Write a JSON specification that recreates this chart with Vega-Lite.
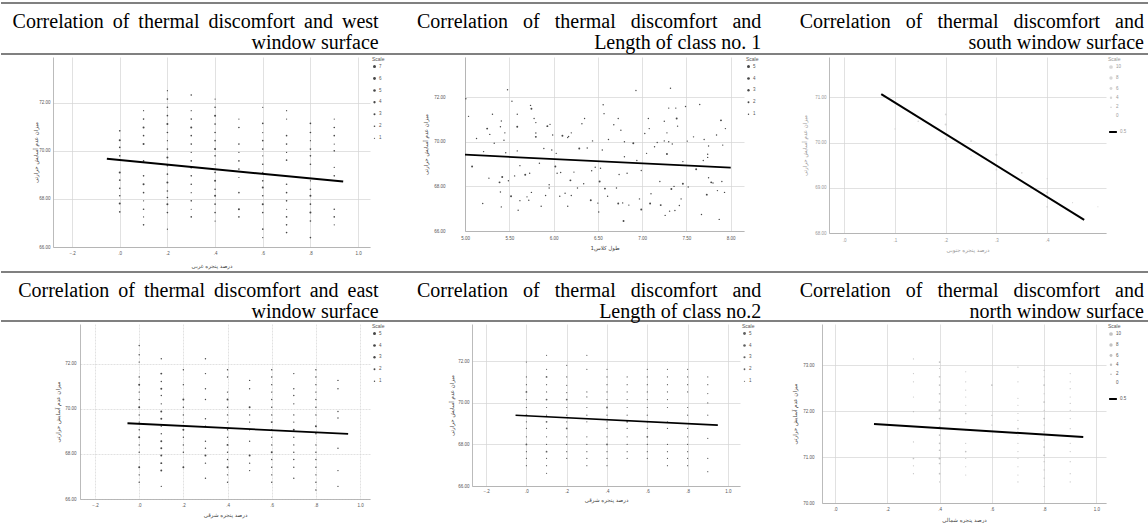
{
"$schema": "https://vega.github.io/schema/vega-lite/v6.json",
"padding": {"left": 0, "top": 2, "right": 0, "bottom": 0},
"background": "white",
"spacing": 2,
"resolve": {"scale": {"size": "independent", "color": "independent"}, "legend": {"size": "independent", "color": "independent"}},
"config": {
  "view": {"stroke": null},
  "concat": {"spacing": 0},
  "axis": {"labelFont": "Liberation Sans", "labelFontSize": 4.5, "labelColor": "#555", "titleFont": "DejaVu Sans", "titleFontSize": 5.5, "titleFontWeight": "normal", "titleColor": "#444", "ticks": false, "domainColor": "#aaa", "domainWidth": 0.8, "gridColor": "#d4d4d4", "gridWidth": 0.7, "labelFlush": false, "labelOverlap": false},
  "legend": {"titleFont": "Liberation Sans", "titleFontSize": 5, "titleFontWeight": "normal", "titleColor": "#555", "labelFont": "Liberation Sans", "labelFontSize": 4.5, "labelColor": "#555", "padding": 0, "offset": 2, "rowPadding": 3, "titlePadding": 2, "labelOffset": 2}
},
"datasets": {
  "titles1": [
    {"panel": "west", "title": "Correlation \u2009of \u2009thermal \u2009discomfort \u2009and \u2009west\nwindow surface"},
    {"panel": "length1", "title": "Correlation\u00a0\u00a0 of\u00a0\u00a0 thermal\u00a0\u00a0 discomfort\u00a0\u00a0 and\nLength of class no. 1"},
    {"panel": "south", "title": "Correlation\u00a0\u00a0 of\u00a0\u00a0 thermal\u00a0\u00a0 discomfort\u00a0\u00a0 and\nsouth window surface"}
  ],
  "titles2": [
    {"panel": "east", "title": "Correlation \u2009of \u2009thermal \u2009discomfort \u2009and \u2009east\nwindow surface"},
    {"panel": "length2", "title": "Correlation\u00a0\u00a0 of\u00a0\u00a0 thermal\u00a0\u00a0 discomfort\u00a0\u00a0 and\nLength of class no.2"},
    {"panel": "north", "title": "Correlation\u00a0\u00a0 of\u00a0\u00a0 thermal\u00a0\u00a0 discomfort\u00a0\u00a0 and\nnorth window surface"}
  ],
  "p1": [
    {"x":0,"y":70.83,"n":2},{"x":0,"y":70.44,"n":3},{"x":0,"y":70.14,"n":2},{"x":0,"y":69.79,"n":2},{"x":0,"y":69.10,"n":3},{"x":0,"y":68.78,"n":2},{"x":0,"y":68.44,"n":2},{"x":0,"y":68.13,"n":2},{"x":0,"y":67.81,"n":3},{"x":0,"y":67.46,"n":2},
    {"x":0.1,"y":71.67,"n":1},{"x":0.1,"y":71.32,"n":2},{"x":0.1,"y":70.97,"n":3},{"x":0.1,"y":70.63,"n":2},{"x":0.1,"y":70.28,"n":3},{"x":0.1,"y":69.58,"n":2},{"x":0.1,"y":68.96,"n":2},{"x":0.1,"y":68.61,"n":3},{"x":0.1,"y":68.26,"n":2},{"x":0.1,"y":67.92,"n":1},{"x":0.1,"y":67.57,"n":2},{"x":0.1,"y":67.25,"n":1},{"x":0.1,"y":66.92,"n":2},
    {"x":0.2,"y":72.50,"n":1},{"x":0.2,"y":72.15,"n":2},{"x":0.2,"y":71.81,"n":2},{"x":0.2,"y":71.46,"n":2},{"x":0.2,"y":71.11,"n":3},{"x":0.2,"y":70.76,"n":2},{"x":0.2,"y":70.42,"n":1},{"x":0.2,"y":70.07,"n":2},{"x":0.2,"y":69.72,"n":3},{"x":0.2,"y":69.38,"n":2},{"x":0.2,"y":69.03,"n":2},{"x":0.2,"y":68.68,"n":3},{"x":0.2,"y":68.33,"n":2},{"x":0.2,"y":68.06,"n":2},{"x":0.2,"y":67.78,"n":3},{"x":0.2,"y":67.43,"n":2},{"x":0.2,"y":66.74,"n":1},
    {"x":0.3,"y":72.32,"n":2},{"x":0.3,"y":71.67,"n":1},{"x":0.3,"y":71.32,"n":2},{"x":0.3,"y":70.97,"n":3},{"x":0.3,"y":70.63,"n":2},{"x":0.3,"y":70.28,"n":2},{"x":0.3,"y":69.93,"n":1},{"x":0.3,"y":69.58,"n":2},{"x":0.3,"y":69.31,"n":3},{"x":0.3,"y":68.96,"n":2},{"x":0.3,"y":68.61,"n":2},{"x":0.3,"y":68.26,"n":1},{"x":0.3,"y":67.92,"n":2},{"x":0.3,"y":67.57,"n":1},{"x":0.3,"y":67.25,"n":2},
    {"x":0.4,"y":72.15,"n":1},{"x":0.4,"y":71.81,"n":2},{"x":0.4,"y":71.46,"n":3},{"x":0.4,"y":71.11,"n":2},{"x":0.4,"y":70.76,"n":2},{"x":0.4,"y":70.42,"n":2},{"x":0.4,"y":70.07,"n":3},{"x":0.4,"y":69.79,"n":2},{"x":0.4,"y":69.44,"n":1},{"x":0.4,"y":69.10,"n":2},{"x":0.4,"y":68.75,"n":3},{"x":0.4,"y":68.40,"n":2},{"x":0.4,"y":68.13,"n":3},{"x":0.4,"y":67.78,"n":2},{"x":0.4,"y":67.43,"n":2},{"x":0.4,"y":67.08,"n":1},
    {"x":0.5,"y":71.32,"n":1},{"x":0.5,"y":70.97,"n":2},{"x":0.5,"y":70.28,"n":2},{"x":0.5,"y":69.93,"n":1},{"x":0.5,"y":69.58,"n":2},{"x":0.5,"y":69.24,"n":2},{"x":0.5,"y":68.89,"n":1},{"x":0.5,"y":68.26,"n":2},{"x":0.5,"y":67.57,"n":3},{"x":0.5,"y":67.25,"n":2},
    {"x":0.6,"y":71.81,"n":1},{"x":0.6,"y":71.14,"n":2},{"x":0.6,"y":70.76,"n":1},{"x":0.6,"y":70.42,"n":2},{"x":0.6,"y":70.07,"n":2},{"x":0.6,"y":69.79,"n":1},{"x":0.6,"y":69.44,"n":2},{"x":0.6,"y":69.10,"n":1},{"x":0.6,"y":68.75,"n":2},{"x":0.6,"y":68.47,"n":3},{"x":0.6,"y":68.13,"n":2},{"x":0.6,"y":67.78,"n":3},{"x":0.6,"y":67.43,"n":2},{"x":0.6,"y":66.74,"n":2},{"x":0.6,"y":66.39,"n":1},
    {"x":0.7,"y":71.67,"n":1},{"x":0.7,"y":71.32,"n":1},{"x":0.7,"y":70.63,"n":2},{"x":0.7,"y":70.28,"n":2},{"x":0.7,"y":69.93,"n":1},{"x":0.7,"y":69.61,"n":2},{"x":0.7,"y":68.61,"n":2},{"x":0.7,"y":68.26,"n":2},{"x":0.7,"y":67.92,"n":2},{"x":0.7,"y":67.57,"n":1},{"x":0.7,"y":67.25,"n":2},{"x":0.7,"y":66.92,"n":2},{"x":0.7,"y":66.60,"n":2},
    {"x":0.8,"y":71.14,"n":2},{"x":0.8,"y":70.76,"n":2},{"x":0.8,"y":70.42,"n":1},{"x":0.8,"y":70.07,"n":2},{"x":0.8,"y":69.79,"n":2},{"x":0.8,"y":69.44,"n":2},{"x":0.8,"y":68.75,"n":1},{"x":0.8,"y":68.40,"n":2},{"x":0.8,"y":68.13,"n":3},{"x":0.8,"y":67.78,"n":2},{"x":0.8,"y":67.43,"n":3},{"x":0.8,"y":67.08,"n":2},{"x":0.8,"y":66.39,"n":2},
    {"x":0.9,"y":71.32,"n":1},{"x":0.9,"y":70.97,"n":2},{"x":0.9,"y":70.63,"n":2},{"x":0.9,"y":70.28,"n":1},{"x":0.9,"y":70.00,"n":2},{"x":0.9,"y":69.31,"n":1},{"x":0.9,"y":68.96,"n":2},{"x":0.9,"y":67.57,"n":2},{"x":0.9,"y":67.25,"n":2},{"x":0.9,"y":66.92,"n":1}
  ],
  "l1": [{"x":-0.054,"y":69.67},{"x":0.9375,"y":68.72}],
  "p2": [
    {"x":5.01,"y":71.93,"n":1},{"x":5.04,"y":71.14,"n":1},{"x":5.08,"y":68.89,"n":2},{"x":5.13,"y":70.15,"n":1},{"x":5.20,"y":67.23,"n":1},{"x":5.21,"y":69.56,"n":1},{"x":5.25,"y":70.59,"n":2},{"x":5.27,"y":68.37,"n":1},{"x":5.28,"y":70.33,"n":1},{"x":5.31,"y":71.23,"n":1},
    {"x":5.33,"y":69.93,"n":1},{"x":5.39,"y":68.18,"n":2},{"x":5.40,"y":70.67,"n":1},{"x":5.40,"y":67.75,"n":1},{"x":5.41,"y":67.08,"n":1},{"x":5.41,"y":70.93,"n":1},{"x":5.42,"y":68.42,"n":2},{"x":5.44,"y":70.07,"n":1},{"x":5.45,"y":70.40,"n":1},{"x":5.46,"y":69.51,"n":1},
    {"x":5.48,"y":72.33,"n":1},{"x":5.49,"y":68.25,"n":1},{"x":5.52,"y":67.56,"n":2},{"x":5.53,"y":71.82,"n":1},{"x":5.56,"y":68.47,"n":1},{"x":5.59,"y":71.23,"n":1},{"x":5.59,"y":70.67,"n":2},{"x":5.59,"y":69.59,"n":1},{"x":5.60,"y":66.93,"n":1},{"x":5.62,"y":68.93,"n":1},
    {"x":5.62,"y":67.36,"n":1},{"x":5.68,"y":68.52,"n":2},{"x":5.70,"y":67.53,"n":1},{"x":5.72,"y":67.38,"n":1},{"x":5.73,"y":68.59,"n":1},{"x":5.74,"y":71.63,"n":1},{"x":5.75,"y":71.48,"n":2},{"x":5.75,"y":67.73,"n":1},{"x":5.78,"y":71.04,"n":1},{"x":5.80,"y":70.86,"n":1},
    {"x":5.80,"y":70.39,"n":1},{"x":5.80,"y":70.22,"n":2},{"x":5.84,"y":69.04,"n":1},{"x":5.86,"y":67.11,"n":1},{"x":5.89,"y":69.70,"n":1},{"x":5.91,"y":67.59,"n":1},{"x":5.93,"y":70.70,"n":2},{"x":5.95,"y":68.07,"n":1},{"x":5.95,"y":67.93,"n":1},{"x":5.96,"y":70.78,"n":1},
    {"x":5.98,"y":69.63,"n":1},{"x":5.99,"y":70.30,"n":1},{"x":6.02,"y":68.89,"n":2},{"x":6.03,"y":69.48,"n":1},{"x":6.04,"y":68.59,"n":1},{"x":6.08,"y":68.62,"n":1},{"x":6.07,"y":67.56,"n":1},{"x":6.10,"y":70.27,"n":2},{"x":6.13,"y":67.69,"n":1},{"x":6.16,"y":70.19,"n":1},
    {"x":6.16,"y":67.11,"n":1},{"x":6.17,"y":70.24,"n":1},{"x":6.19,"y":68.27,"n":2},{"x":6.20,"y":67.59,"n":1},{"x":6.20,"y":70.40,"n":1},{"x":6.23,"y":68.64,"n":1},{"x":6.27,"y":67.93,"n":1},{"x":6.29,"y":69.70,"n":2},{"x":6.32,"y":70.81,"n":1},{"x":6.34,"y":68.12,"n":1},
    {"x":6.35,"y":71.04,"n":1},{"x":6.38,"y":69.72,"n":1},{"x":6.42,"y":67.38,"n":2},{"x":6.43,"y":68.70,"n":1},{"x":6.44,"y":70.04,"n":1},{"x":6.47,"y":68.86,"n":1},{"x":6.50,"y":67.25,"n":1},{"x":6.51,"y":66.85,"n":1},{"x":6.52,"y":68.22,"n":2},{"x":6.53,"y":68.81,"n":1},
    {"x":6.55,"y":69.63,"n":1},{"x":6.56,"y":71.66,"n":1},{"x":6.57,"y":71.26,"n":1},{"x":6.58,"y":67.90,"n":2},{"x":6.61,"y":67.56,"n":1},{"x":6.62,"y":70.10,"n":1},{"x":6.68,"y":70.76,"n":1},{"x":6.71,"y":67.93,"n":1},{"x":6.73,"y":67.23,"n":2},{"x":6.73,"y":71.04,"n":1},
    {"x":6.74,"y":68.53,"n":1},{"x":6.76,"y":70.52,"n":1},{"x":6.78,"y":67.26,"n":1},{"x":6.79,"y":66.45,"n":2},{"x":6.80,"y":70.00,"n":1},{"x":6.80,"y":69.33,"n":1},{"x":6.83,"y":68.59,"n":1},{"x":6.85,"y":67.16,"n":1},{"x":6.90,"y":69.93,"n":2},{"x":6.93,"y":72.30,"n":1},
    {"x":6.94,"y":69.16,"n":1},{"x":6.97,"y":67.44,"n":1},{"x":6.99,"y":68.71,"n":1},{"x":6.99,"y":66.96,"n":2},{"x":7.03,"y":70.37,"n":1},{"x":7.05,"y":69.48,"n":1},{"x":7.07,"y":71.04,"n":1},{"x":7.08,"y":70.59,"n":1},{"x":7.09,"y":67.23,"n":2},{"x":7.10,"y":67.67,"n":1},
    {"x":7.14,"y":69.78,"n":1},{"x":7.17,"y":69.97,"n":1},{"x":7.20,"y":68.22,"n":1},{"x":7.21,"y":67.16,"n":2},{"x":7.25,"y":70.92,"n":1},{"x":7.25,"y":70.04,"n":1},{"x":7.26,"y":66.70,"n":1},{"x":7.28,"y":70.40,"n":1},{"x":7.28,"y":69.45,"n":2},{"x":7.30,"y":71.51,"n":1},
    {"x":7.30,"y":70.00,"n":1},{"x":7.31,"y":66.89,"n":1},{"x":7.32,"y":72.40,"n":1},{"x":7.33,"y":67.88,"n":2},{"x":7.34,"y":69.90,"n":1},{"x":7.36,"y":68.00,"n":1},{"x":7.37,"y":66.92,"n":1},{"x":7.38,"y":71.51,"n":1},{"x":7.39,"y":71.04,"n":2},{"x":7.40,"y":70.70,"n":1},
    {"x":7.42,"y":67.14,"n":1},{"x":7.44,"y":67.44,"n":1},{"x":7.46,"y":69.11,"n":1},{"x":7.46,"y":68.12,"n":2},{"x":7.49,"y":71.58,"n":1},{"x":7.51,"y":70.03,"n":1},{"x":7.52,"y":67.97,"n":1},{"x":7.58,"y":70.22,"n":1},{"x":7.61,"y":68.77,"n":2},{"x":7.65,"y":71.67,"n":1},
    {"x":7.67,"y":66.74,"n":1},{"x":7.69,"y":69.16,"n":1},{"x":7.70,"y":70.10,"n":1},{"x":7.73,"y":67.63,"n":2},{"x":7.74,"y":69.44,"n":1},{"x":7.74,"y":69.30,"n":1},{"x":7.75,"y":68.39,"n":1},{"x":7.75,"y":69.81,"n":1},{"x":7.78,"y":68.18,"n":2},{"x":7.80,"y":68.15,"n":1},
    {"x":7.84,"y":70.30,"n":1},{"x":7.85,"y":67.81,"n":1},{"x":7.87,"y":66.52,"n":1},{"x":7.89,"y":70.96,"n":2},{"x":7.90,"y":68.22,"n":1},{"x":7.91,"y":69.85,"n":1},{"x":7.93,"y":67.73,"n":1},{"x":7.94,"y":70.59,"n":1}
  ],
  "l2": [{"x":5.0,"y":69.42},{"x":8.0,"y":68.84}],
  "p3": [
    {"x":0.1,"y":70.9,"n":1},{"x":0.146,"y":70.47,"n":2},{"x":0.2,"y":70.62,"n":2},{"x":0.2,"y":70.4,"n":3},{"x":0.2,"y":70.07,"n":2},{"x":0.25,"y":70.03,"n":2},{"x":0.25,"y":69.7,"n":1},{"x":0.3,"y":69.73,"n":3},{"x":0.3,"y":69.4,"n":2},{"x":0.35,"y":69.33,"n":2},{"x":0.35,"y":68.98,"n":1},{"x":0.4,"y":68.89,"n":3},{"x":0.4,"y":68.58,"n":2},{"x":0.45,"y":68.67,"n":1},{"x":0.5,"y":68.58,"n":1},{"x":0.1,"y":70.3,"n":1},{"x":0.3,"y":69.1,"n":1},{"x":0.4,"y":69.2,"n":1}
  ],
  "l3": [{"x":0.073,"y":71.07},{"x":0.473,"y":68.29}],
  "p4": [
    {"x":0,"y":72.81,"n":1},{"x":0,"y":72.40,"n":1},{"x":0,"y":72.07,"n":1},{"x":0,"y":71.41,"n":1},{"x":0,"y":71.07,"n":2},{"x":0,"y":70.74,"n":1},{"x":0,"y":70.41,"n":1},{"x":0,"y":70.07,"n":2},{"x":0,"y":69.73,"n":1},{"x":0,"y":69.41,"n":1},{"x":0,"y":69.07,"n":1},{"x":0,"y":68.74,"n":2},{"x":0,"y":68.40,"n":1},{"x":0,"y":68.07,"n":1},{"x":0,"y":67.41,"n":2},{"x":0,"y":67.07,"n":1},{"x":0,"y":66.74,"n":1},
    {"x":0.1,"y":72.22,"n":1},{"x":0.1,"y":71.56,"n":2},{"x":0.1,"y":71.21,"n":1},{"x":0.1,"y":70.89,"n":2},{"x":0.1,"y":70.59,"n":1},{"x":0.1,"y":70.22,"n":1},{"x":0.1,"y":69.88,"n":2},{"x":0.1,"y":69.56,"n":2},{"x":0.1,"y":69.23,"n":1},{"x":0.1,"y":68.89,"n":1},{"x":0.1,"y":68.56,"n":2},{"x":0.1,"y":68.25,"n":2},{"x":0.1,"y":67.93,"n":2},{"x":0.1,"y":67.59,"n":2},{"x":0.1,"y":67.26,"n":2},{"x":0.1,"y":66.56,"n":1},
    {"x":0.2,"y":71.73,"n":1},{"x":0.2,"y":71.07,"n":1},{"x":0.2,"y":70.41,"n":2},{"x":0.2,"y":70.07,"n":1},{"x":0.2,"y":69.73,"n":1},{"x":0.2,"y":69.41,"n":1},{"x":0.2,"y":69.07,"n":2},{"x":0.2,"y":68.74,"n":1},{"x":0.2,"y":68.40,"n":1},{"x":0.2,"y":68.07,"n":1},{"x":0.2,"y":67.41,"n":2},
    {"x":0.3,"y":72.22,"n":1},{"x":0.3,"y":71.56,"n":1},{"x":0.3,"y":70.89,"n":1},{"x":0.3,"y":70.41,"n":1},{"x":0.3,"y":69.56,"n":1},{"x":0.3,"y":69.23,"n":1},{"x":0.3,"y":68.56,"n":1},{"x":0.3,"y":68.25,"n":1},{"x":0.3,"y":67.93,"n":2},{"x":0.3,"y":67.59,"n":1},{"x":0.3,"y":66.92,"n":1},
    {"x":0.4,"y":71.73,"n":1},{"x":0.4,"y":71.41,"n":1},{"x":0.4,"y":70.74,"n":1},{"x":0.4,"y":70.41,"n":2},{"x":0.4,"y":70.07,"n":1},{"x":0.4,"y":69.73,"n":1},{"x":0.4,"y":69.41,"n":1},{"x":0.4,"y":69.07,"n":1},{"x":0.4,"y":68.74,"n":1},{"x":0.4,"y":68.40,"n":2},{"x":0.4,"y":68.07,"n":1},{"x":0.4,"y":67.75,"n":1},{"x":0.4,"y":67.41,"n":2},{"x":0.4,"y":67.07,"n":1},{"x":0.4,"y":66.74,"n":1},
    {"x":0.5,"y":71.26,"n":1},{"x":0.5,"y":70.89,"n":1},{"x":0.5,"y":70.07,"n":2},{"x":0.5,"y":69.73,"n":1},{"x":0.5,"y":69.41,"n":1},{"x":0.5,"y":69.07,"n":1},{"x":0.5,"y":68.56,"n":1},{"x":0.5,"y":67.93,"n":2},{"x":0.5,"y":67.59,"n":1},{"x":0.5,"y":67.26,"n":1},
    {"x":0.6,"y":71.73,"n":1},{"x":0.6,"y":71.41,"n":1},{"x":0.6,"y":71.07,"n":1},{"x":0.6,"y":70.74,"n":1},{"x":0.6,"y":70.41,"n":1},{"x":0.6,"y":70.07,"n":1},{"x":0.6,"y":69.73,"n":1},{"x":0.6,"y":69.41,"n":2},{"x":0.6,"y":69.07,"n":1},{"x":0.6,"y":68.74,"n":1},{"x":0.6,"y":68.40,"n":1},{"x":0.6,"y":68.07,"n":2},{"x":0.6,"y":67.75,"n":1},{"x":0.6,"y":67.41,"n":1},{"x":0.6,"y":67.07,"n":1},{"x":0.6,"y":66.74,"n":1},
    {"x":0.7,"y":71.56,"n":1},{"x":0.7,"y":70.89,"n":1},{"x":0.7,"y":70.59,"n":1},{"x":0.7,"y":70.22,"n":1},{"x":0.7,"y":69.73,"n":1},{"x":0.7,"y":69.41,"n":1},{"x":0.7,"y":69.07,"n":2},{"x":0.7,"y":68.74,"n":1},{"x":0.7,"y":68.40,"n":1},{"x":0.7,"y":68.07,"n":1},{"x":0.7,"y":67.75,"n":1},{"x":0.7,"y":67.41,"n":1},{"x":0.7,"y":66.92,"n":1},
    {"x":0.8,"y":71.73,"n":1},{"x":0.8,"y":71.41,"n":1},{"x":0.8,"y":71.07,"n":1},{"x":0.8,"y":70.74,"n":1},{"x":0.8,"y":70.41,"n":1},{"x":0.8,"y":70.07,"n":1},{"x":0.8,"y":69.73,"n":1},{"x":0.8,"y":69.23,"n":2},{"x":0.8,"y":68.89,"n":1},{"x":0.8,"y":68.40,"n":1},{"x":0.8,"y":68.07,"n":1},{"x":0.8,"y":67.75,"n":1},{"x":0.8,"y":67.41,"n":1},{"x":0.8,"y":67.07,"n":1},{"x":0.8,"y":66.74,"n":1},{"x":0.8,"y":66.40,"n":1},
    {"x":0.9,"y":71.26,"n":1},{"x":0.9,"y":70.89,"n":1},{"x":0.9,"y":69.88,"n":1},{"x":0.9,"y":69.59,"n":1},{"x":0.9,"y":68.25,"n":1},{"x":0.9,"y":67.26,"n":1},{"x":0.9,"y":66.56,"n":1}
  ],
  "l4": [{"x":-0.053,"y":69.36},{"x":0.946,"y":68.89}],
  "p5": [
    {"x":0,"y":71.97,"n":1},{"x":0,"y":71.25,"n":1},{"x":0,"y":70.88,"n":1},{"x":0,"y":70.53,"n":2},{"x":0,"y":70.16,"n":1},{"x":0,"y":69.78,"n":1},{"x":0,"y":69.41,"n":2},{"x":0,"y":69.09,"n":1},{"x":0,"y":68.77,"n":1},{"x":0,"y":68.37,"n":1},{"x":0,"y":68.00,"n":2},{"x":0,"y":67.65,"n":1},{"x":0,"y":67.33,"n":1},{"x":0,"y":66.98,"n":1},
    {"x":0.1,"y":72.29,"n":1},{"x":0.1,"y":71.62,"n":1},{"x":0.1,"y":71.25,"n":2},{"x":0.1,"y":70.88,"n":1},{"x":0.1,"y":70.53,"n":1},{"x":0.1,"y":70.16,"n":2},{"x":0.1,"y":69.78,"n":1},{"x":0.1,"y":69.41,"n":1},{"x":0.1,"y":69.09,"n":2},{"x":0.1,"y":68.77,"n":1},{"x":0.1,"y":68.37,"n":1},{"x":0.1,"y":68.00,"n":1},{"x":0.1,"y":67.65,"n":2},{"x":0.1,"y":67.33,"n":1},{"x":0.1,"y":66.98,"n":1},{"x":0.1,"y":66.61,"n":1},
    {"x":0.2,"y":71.81,"n":1},{"x":0.2,"y":71.25,"n":1},{"x":0.2,"y":70.85,"n":1},{"x":0.2,"y":70.50,"n":1},{"x":0.2,"y":70.16,"n":2},{"x":0.2,"y":69.78,"n":1},{"x":0.2,"y":69.41,"n":1},{"x":0.2,"y":69.09,"n":1},{"x":0.2,"y":68.77,"n":2},{"x":0.2,"y":68.37,"n":1},{"x":0.2,"y":68.00,"n":1},{"x":0.2,"y":67.65,"n":1},{"x":0.2,"y":67.33,"n":1},
    {"x":0.3,"y":72.29,"n":1},{"x":0.3,"y":71.62,"n":1},{"x":0.3,"y":70.53,"n":1},{"x":0.3,"y":70.29,"n":1},{"x":0.3,"y":69.78,"n":1},{"x":0.3,"y":69.41,"n":1},{"x":0.3,"y":69.09,"n":1},{"x":0.3,"y":68.37,"n":1},{"x":0.3,"y":68.00,"n":1},{"x":0.3,"y":67.65,"n":1},{"x":0.3,"y":67.33,"n":1},{"x":0.3,"y":66.98,"n":1},
    {"x":0.4,"y":71.62,"n":1},{"x":0.4,"y":71.25,"n":1},{"x":0.4,"y":70.88,"n":1},{"x":0.4,"y":70.53,"n":1},{"x":0.4,"y":70.16,"n":1},{"x":0.4,"y":69.78,"n":2},{"x":0.4,"y":69.41,"n":1},{"x":0.4,"y":69.09,"n":1},{"x":0.4,"y":68.77,"n":1},{"x":0.4,"y":68.37,"n":1},{"x":0.4,"y":68.00,"n":2},{"x":0.4,"y":67.65,"n":1},{"x":0.4,"y":67.33,"n":1},{"x":0.4,"y":66.98,"n":1},
    {"x":0.5,"y":71.25,"n":1},{"x":0.5,"y":70.88,"n":1},{"x":0.5,"y":70.53,"n":1},{"x":0.5,"y":70.16,"n":1},{"x":0.5,"y":69.78,"n":1},{"x":0.5,"y":69.41,"n":1},{"x":0.5,"y":69.09,"n":2},{"x":0.5,"y":68.77,"n":1},{"x":0.5,"y":68.37,"n":1},{"x":0.5,"y":68.00,"n":1},{"x":0.5,"y":67.65,"n":1},{"x":0.5,"y":67.33,"n":1},
    {"x":0.6,"y":71.62,"n":1},{"x":0.6,"y":71.25,"n":1},{"x":0.6,"y":70.88,"n":1},{"x":0.6,"y":70.53,"n":1},{"x":0.6,"y":70.16,"n":1},{"x":0.6,"y":69.78,"n":1},{"x":0.6,"y":69.41,"n":1},{"x":0.6,"y":69.09,"n":1},{"x":0.6,"y":68.77,"n":1},{"x":0.6,"y":68.37,"n":2},{"x":0.6,"y":68.00,"n":1},{"x":0.6,"y":67.65,"n":1},{"x":0.6,"y":67.33,"n":1},
    {"x":0.7,"y":71.62,"n":1},{"x":0.7,"y":71.25,"n":1},{"x":0.7,"y":70.88,"n":1},{"x":0.7,"y":70.53,"n":1},{"x":0.7,"y":70.16,"n":1},{"x":0.7,"y":69.78,"n":1},{"x":0.7,"y":69.09,"n":1},{"x":0.7,"y":68.77,"n":1},{"x":0.7,"y":68.00,"n":1},{"x":0.7,"y":67.65,"n":1},{"x":0.7,"y":67.33,"n":1},{"x":0.7,"y":66.98,"n":1},
    {"x":0.8,"y":71.62,"n":1},{"x":0.8,"y":71.25,"n":1},{"x":0.8,"y":70.88,"n":1},{"x":0.8,"y":70.53,"n":1},{"x":0.8,"y":69.78,"n":1},{"x":0.8,"y":69.41,"n":1},{"x":0.8,"y":68.77,"n":1},{"x":0.8,"y":68.37,"n":1},{"x":0.8,"y":68.00,"n":1},{"x":0.8,"y":67.65,"n":1},{"x":0.8,"y":67.33,"n":1},{"x":0.8,"y":66.98,"n":1},
    {"x":0.9,"y":71.25,"n":1},{"x":0.9,"y":70.88,"n":1},{"x":0.9,"y":70.45,"n":1},{"x":0.9,"y":70.00,"n":1},{"x":0.9,"y":69.41,"n":1},{"x":0.9,"y":68.29,"n":1},{"x":0.9,"y":67.33,"n":1},{"x":0.9,"y":66.69,"n":1}
  ],
  "l5": [{"x":-0.054,"y":69.41},{"x":0.95,"y":68.93}],
  "p6": [
    {"x":0.3,"y":73.14,"n":1},{"x":0.3,"y":72.82,"n":1},{"x":0.3,"y":72.64,"n":1},{"x":0.3,"y":72.31,"n":1},{"x":0.3,"y":71.99,"n":1},{"x":0.3,"y":71.33,"n":1},{"x":0.3,"y":70.97,"n":2},{"x":0.3,"y":70.81,"n":1},{"x":0.3,"y":70.64,"n":1},
    {"x":0.4,"y":73.07,"n":2},{"x":0.4,"y":72.93,"n":1},{"x":0.4,"y":72.75,"n":2},{"x":0.4,"y":72.57,"n":2},{"x":0.4,"y":72.38,"n":2},{"x":0.4,"y":72.20,"n":2},{"x":0.4,"y":72.02,"n":3},{"x":0.4,"y":71.84,"n":2},{"x":0.4,"y":71.66,"n":2},{"x":0.4,"y":71.48,"n":2},{"x":0.4,"y":71.30,"n":2},{"x":0.4,"y":71.15,"n":2},{"x":0.4,"y":70.97,"n":3},{"x":0.4,"y":70.86,"n":2},{"x":0.4,"y":70.64,"n":2},{"x":0.4,"y":70.46,"n":1},
    {"x":0.5,"y":72.86,"n":1},{"x":0.5,"y":72.64,"n":1},{"x":0.5,"y":72.46,"n":1},{"x":0.5,"y":72.31,"n":1},{"x":0.5,"y":72.13,"n":1},{"x":0.5,"y":71.95,"n":2},{"x":0.5,"y":71.77,"n":1},{"x":0.5,"y":71.59,"n":1},{"x":0.5,"y":71.30,"n":1},{"x":0.5,"y":71.12,"n":2},{"x":0.5,"y":70.97,"n":1},{"x":0.5,"y":70.79,"n":1},{"x":0.5,"y":70.61,"n":1},
    {"x":0.6,"y":72.57,"n":2},{"x":0.6,"y":71.91,"n":1},{"x":0.6,"y":71.70,"n":1},
    {"x":0.7,"y":72.96,"n":1},{"x":0.7,"y":72.64,"n":1},{"x":0.7,"y":72.28,"n":1},{"x":0.7,"y":72.13,"n":1},{"x":0.7,"y":71.95,"n":1},{"x":0.7,"y":71.80,"n":1},{"x":0.7,"y":71.62,"n":2},{"x":0.7,"y":71.48,"n":1},{"x":0.7,"y":71.30,"n":1},{"x":0.7,"y":71.12,"n":1},{"x":0.7,"y":70.97,"n":1},{"x":0.7,"y":70.79,"n":1},{"x":0.7,"y":70.61,"n":1},{"x":0.7,"y":70.46,"n":1},
    {"x":0.8,"y":72.89,"n":1},{"x":0.8,"y":72.75,"n":1},{"x":0.8,"y":72.57,"n":2},{"x":0.8,"y":72.38,"n":1},{"x":0.8,"y":72.20,"n":2},{"x":0.8,"y":72.02,"n":1},{"x":0.8,"y":71.84,"n":2},{"x":0.8,"y":71.70,"n":1},{"x":0.8,"y":71.55,"n":2},{"x":0.8,"y":71.37,"n":1},{"x":0.8,"y":71.22,"n":2},{"x":0.8,"y":71.04,"n":2},{"x":0.8,"y":70.90,"n":1},{"x":0.8,"y":70.72,"n":1},{"x":0.8,"y":70.54,"n":1},{"x":0.8,"y":70.36,"n":1},
    {"x":0.9,"y":72.82,"n":1},{"x":0.9,"y":72.64,"n":1},{"x":0.9,"y":72.49,"n":1},{"x":0.9,"y":72.31,"n":1},{"x":0.9,"y":72.17,"n":1},{"x":0.9,"y":72.02,"n":1},{"x":0.9,"y":71.84,"n":1},{"x":0.9,"y":71.62,"n":1},{"x":0.9,"y":71.30,"n":1},{"x":0.9,"y":71.12,"n":1},{"x":0.9,"y":70.90,"n":1},{"x":0.9,"y":70.64,"n":1},{"x":0.9,"y":70.46,"n":1}
  ],
  "l6": [{"x":0.149,"y":71.72},{"x":0.95,"y":71.44}]
},
"vconcat": [
  {
    "width": 1148, "height": 51,
    "layer": [
      {"data": {"values": [{}]}, "mark": {"type": "rule", "color": "#808080", "strokeWidth": 2}, "encoding": {"y": {"datum": 1, "type": "quantitative", "scale": {"domain": [0, 1]}, "axis": null}}},
      {"data": {"values": [{}]}, "mark": {"type": "rule", "color": "#808080", "strokeWidth": 2}, "encoding": {"y": {"datum": 0, "type": "quantitative"}}},
      {"data": {"name": "titles1"}, "mark": {"type": "text", "align": "right", "baseline": "middle", "font": "Liberation Serif", "fontSize": 20, "lineHeight": 21, "lineBreak": "\n", "dx": -5, "color": "#000"},
       "encoding": {"x": {"field": "panel", "type": "nominal", "sort": null, "scale": {"type": "band", "paddingInner": 0, "paddingOuter": 0}, "bandPosition": 1, "axis": null}, "y": {"datum": 0.62, "type": "quantitative"}, "text": {"field": "title"}}}
    ]
  },
  {
    "resolve": {"scale": {"size": "independent", "color": "independent"}, "legend": {"size": "independent", "color": "independent"}},
    "hconcat": [
      {"width": 32, "height": 1, "data": {"values": []}, "mark": "point"},
      {
        "width": 317, "height": 190,
        "encoding": {
          "x": {"field": "x", "type": "quantitative", "scale": {"domain": [-0.28, 1.05], "nice": false, "zero": false}, "axis": {"values": [-0.2, 0, 0.2, 0.4, 0.6, 0.8, 1], "labelExpr": "replace(format(datum.value,'.1f'),'0.','.')", "title": "درصد پنجره غربی", "labelPadding": 3, "titlePadding": 9}},
          "y": {"field": "y", "type": "quantitative", "scale": {"domain": [66, 73.9], "nice": false, "zero": false}, "axis": {"values": [66, 68, 70, 72], "format": ".2f", "title": "میزان عدم آسایش حرارتی", "labelPadding": 3, "minExtent": 15, "maxExtent": 15, "titlePadding": 0}}
        },
        "layer": [
          {"data": {"name": "p1"}, "mark": {"type": "circle", "color": "#333", "opacity": 0.9}, "encoding": {"size": {"field": "n", "type": "quantitative", "scale": {"domain": [1, 7], "range": [1.5, 9]}, "legend": {"title": "Scale", "values": [7, 6, 5, 4, 3, 2, 1]}}}},
          {"data": {"name": "l1"}, "mark": {"type": "line", "color": "#000", "strokeWidth": 2}, "encoding": {}}
        ]
      },
      {"width": 38, "height": 1, "data": {"values": []}, "mark": "point"},
      {
        "width": 279, "height": 174,
        "encoding": {
          "x": {"field": "x", "type": "quantitative", "scale": {"domain": [5, 8.15], "nice": false, "zero": false}, "axis": {"values": [5, 5.5, 6, 6.5, 7, 7.5, 8], "format": ".2f", "title": "طول کلاس1", "labelPadding": 4, "titlePadding": 6}},
          "y": {"field": "y", "type": "quantitative", "scale": {"domain": [66, 73.8], "nice": false, "zero": false}, "axis": {"values": [66, 68, 70, 72], "format": ".2f", "title": "میزان عدم آسایش حرارتی", "labelPadding": 20, "minExtent": 32, "maxExtent": 32, "titlePadding": 5}}
        },
        "layer": [
          {"data": {"name": "p2"}, "mark": {"type": "circle", "color": "#333", "opacity": 0.9}, "encoding": {"size": {"field": "n", "type": "quantitative", "scale": {"domain": [1, 5], "range": [2, 9]}, "legend": {"title": "Scale", "values": [5, 4, 3, 2, 1]}}}},
          {"data": {"name": "l2"}, "mark": {"type": "line", "color": "#000", "strokeWidth": 1.8}, "encoding": {}}
        ]
      },
      {"width": 43, "height": 1, "data": {"values": []}, "mark": "point"},
      {
        "width": 277, "height": 176,
        "encoding": {
          "x": {"field": "x", "type": "quantitative", "scale": {"domain": [-0.03, 0.516], "nice": false, "zero": false}, "axis": {"values": [0, 0.1, 0.2, 0.3, 0.4], "labelExpr": "replace(format(datum.value,'.1f'),'0.','.')", "title": "درصد پنجره جنوبی", "labelPadding": 4, "titlePadding": 6, "labelColor": "#999", "titleColor": "#999"}},
          "y": {"field": "y", "type": "quantitative", "scale": {"domain": [68, 71.89], "nice": false, "zero": false}, "axis": {"values": [68, 69, 70, 71], "format": ".2f", "title": "میزان عدم آسایش حرارتی", "labelPadding": 3, "minExtent": 15, "maxExtent": 15, "titlePadding": 7, "labelColor": "#999", "titleColor": "#999"}}
        },
        "layer": [
          {"data": {"name": "p3"}, "mark": {"type": "circle", "color": "#c8c8c8"}, "encoding": {"size": {"field": "n", "type": "quantitative", "scale": {"domain": [0, 10], "range": [0, 14]}, "legend": {"title": "Scale", "values": [10, 8, 6, 4, 2, 0], "rowPadding": 0.5, "labelColor": "#999", "titleColor": "#999"}}}},
          {"data": {"name": "l3"}, "mark": {"type": "line", "strokeWidth": 2}, "encoding": {"color": {"datum": "0.5", "type": "nominal", "scale": {"range": ["#000"]}, "legend": {"title": null, "symbolType": "stroke", "symbolStrokeWidth": 2, "symbolSize": 60, "labelColor": "#999"}}}}
        ]
      }
    ]
  },
  {
    "width": 1148, "height": 49,
    "layer": [
      {"data": {"values": [{}]}, "mark": {"type": "rule", "color": "#808080", "strokeWidth": 2}, "encoding": {"y": {"datum": 1, "type": "quantitative", "scale": {"domain": [0, 1]}, "axis": null}}},
      {"data": {"values": [{}]}, "mark": {"type": "rule", "color": "#808080", "strokeWidth": 2}, "encoding": {"y": {"datum": 0, "type": "quantitative"}}},
      {"data": {"name": "titles2"}, "mark": {"type": "text", "align": "right", "baseline": "middle", "font": "Liberation Serif", "fontSize": 20, "lineHeight": 21, "lineBreak": "\n", "dx": -5, "color": "#000"},
       "encoding": {"x": {"field": "panel", "type": "nominal", "sort": null, "scale": {"type": "band", "paddingInner": 0, "paddingOuter": 0}, "bandPosition": 1, "axis": null}, "y": {"datum": 0.62, "type": "quantitative"}, "text": {"field": "title"}}}
    ]
  },
  {
    "resolve": {"scale": {"size": "independent", "color": "independent"}, "legend": {"size": "independent", "color": "independent"}},
    "hconcat": [
      {"width": 54, "height": 1, "data": {"values": []}, "mark": "point"},
      {
        "width": 290, "height": 175,
        "encoding": {
          "x": {"field": "x", "type": "quantitative", "scale": {"domain": [-0.268, 1.045], "nice": false, "zero": false}, "axis": {"values": [-0.2, 0, 0.2, 0.4, 0.6, 0.8, 1], "labelExpr": "replace(format(datum.value,'.1f'),'0.','.')", "title": "درصد پنجره شرقی", "labelPadding": 3, "titlePadding": 6, "gridDash": [2, 1]}},
          "y": {"field": "y", "type": "quantitative", "scale": {"domain": [66, 73.76], "nice": false, "zero": false}, "axis": {"values": [66, 68, 70, 72], "format": ".2f", "title": "میزان عدم آسایش حرارتی", "labelPadding": 4, "minExtent": 16, "maxExtent": 16, "titlePadding": 4, "gridDash": [2, 1]}}
        },
        "layer": [
          {"data": {"name": "p4"}, "mark": {"type": "circle", "color": "#333", "opacity": 0.9}, "encoding": {"size": {"field": "n", "type": "quantitative", "scale": {"domain": [1, 5], "range": [2, 9]}, "legend": {"title": "Scale", "values": [5, 4, 3, 2, 1]}}}},
          {"data": {"name": "l4"}, "mark": {"type": "line", "color": "#000", "strokeWidth": 1.8}, "encoding": {}}
        ]
      },
      {"width": 64, "height": 1, "data": {"values": []}, "mark": "point"},
      {
        "width": 268, "height": 162,
        "encoding": {
          "x": {"field": "x", "type": "quantitative", "scale": {"domain": [-0.27, 1.06], "nice": false, "zero": false}, "axis": {"values": [-0.2, 0, 0.2, 0.4, 0.6, 0.8, 1], "labelExpr": "replace(format(datum.value,'.1f'),'0.','.')", "title": "درصد پنجره شرقی", "labelPadding": 2, "titlePadding": 5}},
          "y": {"field": "y", "type": "quantitative", "scale": {"domain": [66, 73.8], "nice": false, "zero": false}, "axis": {"values": [66, 68, 70, 72], "format": ".2f", "title": "میزان عدم آسایش حرارتی", "labelPadding": 3, "minExtent": 15, "maxExtent": 15, "titlePadding": 3}}
        },
        "layer": [
          {"data": {"name": "p5"}, "mark": {"type": "circle", "color": "#444", "opacity": 0.85}, "encoding": {"size": {"field": "n", "type": "quantitative", "scale": {"domain": [1, 5], "range": [1.5, 8]}, "legend": {"title": "Scale", "values": [5, 4, 3, 2, 1]}}}},
          {"data": {"name": "l5"}, "mark": {"type": "line", "color": "#000", "strokeWidth": 1.6}, "encoding": {}}
        ]
      },
      {"width": 37, "height": 1, "data": {"values": []}, "mark": "point"},
      {
        "width": 284, "height": 179,
        "encoding": {
          "x": {"field": "x", "type": "quantitative", "scale": {"domain": [-0.05, 1.037], "nice": false, "zero": false}, "axis": {"values": [0, 0.2, 0.4, 0.6, 0.8, 1], "labelExpr": "replace(format(datum.value,'.1f'),'0.','.')", "title": "درصد پنجره شمالی", "labelPadding": 3, "titlePadding": 7}},
          "y": {"field": "y", "type": "quantitative", "scale": {"domain": [70, 73.9], "nice": false, "zero": false}, "axis": {"values": [70, 71, 72, 73], "format": ".2f", "title": "میزان عدم آسایش حرارتی", "labelPadding": 8, "minExtent": 20, "maxExtent": 20, "titlePadding": 5}}
        },
        "layer": [
          {"data": {"name": "p6"}, "mark": {"type": "circle", "color": "#aaa"}, "encoding": {"size": {"field": "n", "type": "quantitative", "scale": {"domain": [0, 10], "range": [0, 14]}, "legend": {"title": "Scale", "values": [10, 8, 6, 4, 2, 0], "rowPadding": 0.5}}}},
          {"data": {"name": "l6"}, "mark": {"type": "line", "strokeWidth": 2}, "encoding": {"color": {"datum": "0.5", "type": "nominal", "scale": {"range": ["#000"]}, "legend": {"title": null, "symbolType": "stroke", "symbolStrokeWidth": 2, "symbolSize": 60}}}}
        ]
      }
    ]
  }
]
}
